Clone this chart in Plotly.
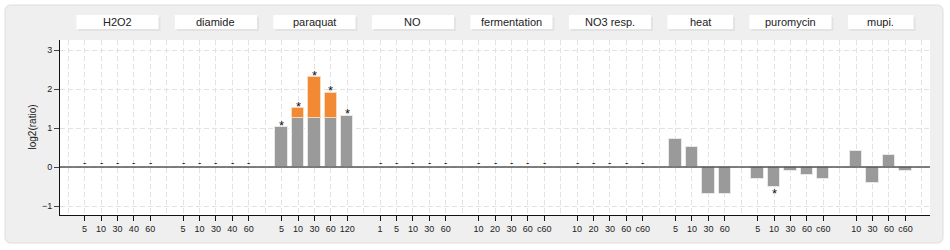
import plotly.graph_objects as go

# ---------------- data ----------------
groups = ["H2O2", "diamide", "paraquat", "NO", "fermentation",
          "NO3 resp.", "heat", "puromycin", "mupi."]
time_labels = [
    ["5", "10", "30", "40", "60"],
    ["5", "10", "30", "40", "60"],
    ["5", "10", "30", "60", "120"],
    ["1", "5", "10", "30", "60"],
    ["10", "20", "30", "60", "c60"],
    ["10", "20", "30", "60", "c60"],
    ["5", "10", "30", "60"],
    ["5", "10", "30", "60", "c60"],
    ["10", "30", "60", "c60"],
]
# gray bar values (None = no data, drawn as "-")
gray_values = [
    [None, None, None, None, None],
    [None, None, None, None, None],
    [1.02, 1.27, 1.27, 1.27, 1.32],
    [None, None, None, None, None],
    [None, None, None, None, None],
    [None, None, None, None, None],
    [0.71, 0.51, -0.70, -0.70],
    [-0.31, -0.51, -0.10, -0.21, -0.31],
    [0.41, -0.40, 0.32, -0.10],
]
# orange bar tops (None = no orange part)
orange_tops = [
    [None, None, None, None, None],
    [None, None, None, None, None],
    [None, 1.51, 2.31, 1.91, None],
    [None, None, None, None, None],
    [None, None, None, None, None],
    [None, None, None, None, None],
    [None, None, None, None],
    [None, None, None, None, None],
    [None, None, None, None],
]
significant = [
    [False, False, False, False, False],
    [False, False, False, False, False],
    [True, True, True, True, True],
    [False, False, False, False, False],
    [False, False, False, False, False],
    [False, False, False, False, False],
    [False, False, False, False],
    [False, True, False, False, False],
    [False, False, False, False],
]

# ---------------- layout constants ----------------
W, H = 950, 250
ML, MR, MT, MB = 60, 20, 40, 35
PW, PH = W - ML - MR, H - MT - MB
FONT = "Liberation Sans, Arial, sans-serif"
GRID = "#e2e2e2"


def px_x(px):
    return (px - ML) / PW


def px_y(py):
    return (H - MB - py) / PH


# ---------------- slot positions ----------------
xs, labels, grays, oranges, sigs, missing = [], [], [], [], [], []
group_spans = []
pos = 0
for gi, g in enumerate(groups):
    start = pos + 1
    for j, t in enumerate(time_labels[gi]):
        pos += 1
        xs.append(pos)
        labels.append(t)
        gv = gray_values[gi][j]
        ot = orange_tops[gi][j]
        grays.append(gv)
        oranges.append(None if ot is None else ot - gv)
        sigs.append(significant[gi][j])
        missing.append(gv is None)
    group_spans.append((start, pos))
    pos += 1
n_slots = pos + 1
slot_px = PW / n_slots

fig = go.Figure()
fig.add_trace(go.Bar(
    x=xs, y=grays, width=0.75,
    marker=dict(color="#9a9a9a", line=dict(color="rgba(235,235,235,0.9)", width=1)),
    hoverinfo="skip", showlegend=False))
fig.add_trace(go.Bar(
    x=xs, y=oranges, width=0.75,
    marker=dict(color="#f28a35", line=dict(color="rgba(250,220,190,0.9)", width=1)),
    hoverinfo="skip", showlegend=False))

shapes = []
# outer rounded panel
r = 6
x0p, x1p, y0p, y1p = 5, 943, 5, 243
rx, ry = r / PW, r / PH
X0, X1, Y0, Y1 = px_x(x0p), px_x(x1p), px_y(y1p), px_y(y0p)
path = (f"M {X0+rx},{Y0} L {X1-rx},{Y0} Q {X1},{Y0} {X1},{Y0+ry} "
        f"L {X1},{Y1-ry} Q {X1},{Y1} {X1-rx},{Y1} L {X0+rx},{Y1} "
        f"Q {X0},{Y1} {X0},{Y1-ry} L {X0},{Y0+ry} Q {X0},{Y0} {X0+rx},{Y0} Z")
shapes.append(dict(type="path", path=path, xref="paper", yref="paper",
                   fillcolor="#efefef", line=dict(color="#dedede", width=1), layer="below"))
# white plot area
shapes.append(dict(type="rect", xref="paper", yref="paper", x0=0, x1=1, y0=0, y1=1,
                   fillcolor="white", line=dict(width=0), layer="below"))

annotations = []
# header boxes
sh = 2 / slot_px
for gi, (s, e) in enumerate(group_spans):
    shapes.append(dict(type="rect", xref="x", yref="paper",
                       x0=s - 0.5 + sh, x1=e + 0.5 + sh, y0=px_y(31), y1=px_y(17),
                       fillcolor="#e3e3e3", line=dict(width=0), layer="below"))
    shapes.append(dict(type="rect", xref="x", yref="paper",
                       x0=s - 0.5, x1=e + 0.5, y0=px_y(29), y1=px_y(15),
                       fillcolor="white", line=dict(width=0), layer="below"))
    annotations.append(dict(x=(s + e) / 2, y=px_y(22), xref="x", yref="paper",
                            text=groups[gi], showarrow=False, xanchor="center",
                            yanchor="middle", font=dict(family=FONT, size=11, color="#222")))

# zero line on top
shapes.append(dict(type="line", xref="paper", yref="y", x0=0, x1=1, y0=0, y1=0,
                   line=dict(color="#555555", width=1.5), layer="above"))

# markers: "-" for missing, "*" for significant
for x, gv, ov, sg, ms in zip(xs, grays, oranges, sigs, missing):
    if ms:
        annotations.append(dict(x=x, y=0, xref="x", yref="y", text="-", showarrow=False,
                                yanchor="middle", yshift=5,
                                font=dict(family=FONT, size=10, color="#222")))
    elif sg:
        top = gv + (ov or 0)
        annotations.append(dict(x=x, y=top, xref="x", yref="y", text="*", showarrow=False,
                                yanchor="middle", yshift=2 if top >= 0 else -7,
                                font=dict(family=FONT, size=13, color="#111")))

# y-axis title
annotations.append(dict(x=px_x(32), y=0.5, xref="paper", yref="paper", text="log2(ratio)",
                        textangle=-90, showarrow=False, xanchor="center", yanchor="middle",
                        font=dict(family=FONT, size=10, color="#222")))

fig.update_layout(
    width=W, height=H, margin=dict(l=ML, r=MR, t=MT, b=MB),
    paper_bgcolor="white", plot_bgcolor="white",
    barmode="relative", bargap=0,
    shapes=shapes, annotations=annotations,
    font=dict(family=FONT, size=10, color="#222"),
    xaxis=dict(range=[-0.5, n_slots - 0.5], tickmode="array", tickvals=xs, ticktext=labels,
               showgrid=True, gridcolor=GRID, griddash="5px,3px", gridwidth=1,
               minor=dict(dtick=1, tick0=0, showgrid=True, gridcolor=GRID,
                          griddash="5px,3px", ticklen=0),
               showline=True, linecolor="#111", linewidth=1,
               ticks="outside", ticklen=5, tickcolor="#111",
               zeroline=False, fixedrange=True,
               tickfont=dict(family=FONT, size=9, color="#222")),
    yaxis=dict(range=[-1.23, 3.26], tickvals=[-1, 0, 1, 2, 3],
               showgrid=True, gridcolor=GRID, griddash="5px,3px",
               showline=True, linecolor="#111", linewidth=1,
               ticks="outside", ticklen=5, tickcolor="#444",
               zeroline=False, fixedrange=True,
               tickfont=dict(family=FONT, size=9, color="#222")),
)

fig.write_html("out.html")
